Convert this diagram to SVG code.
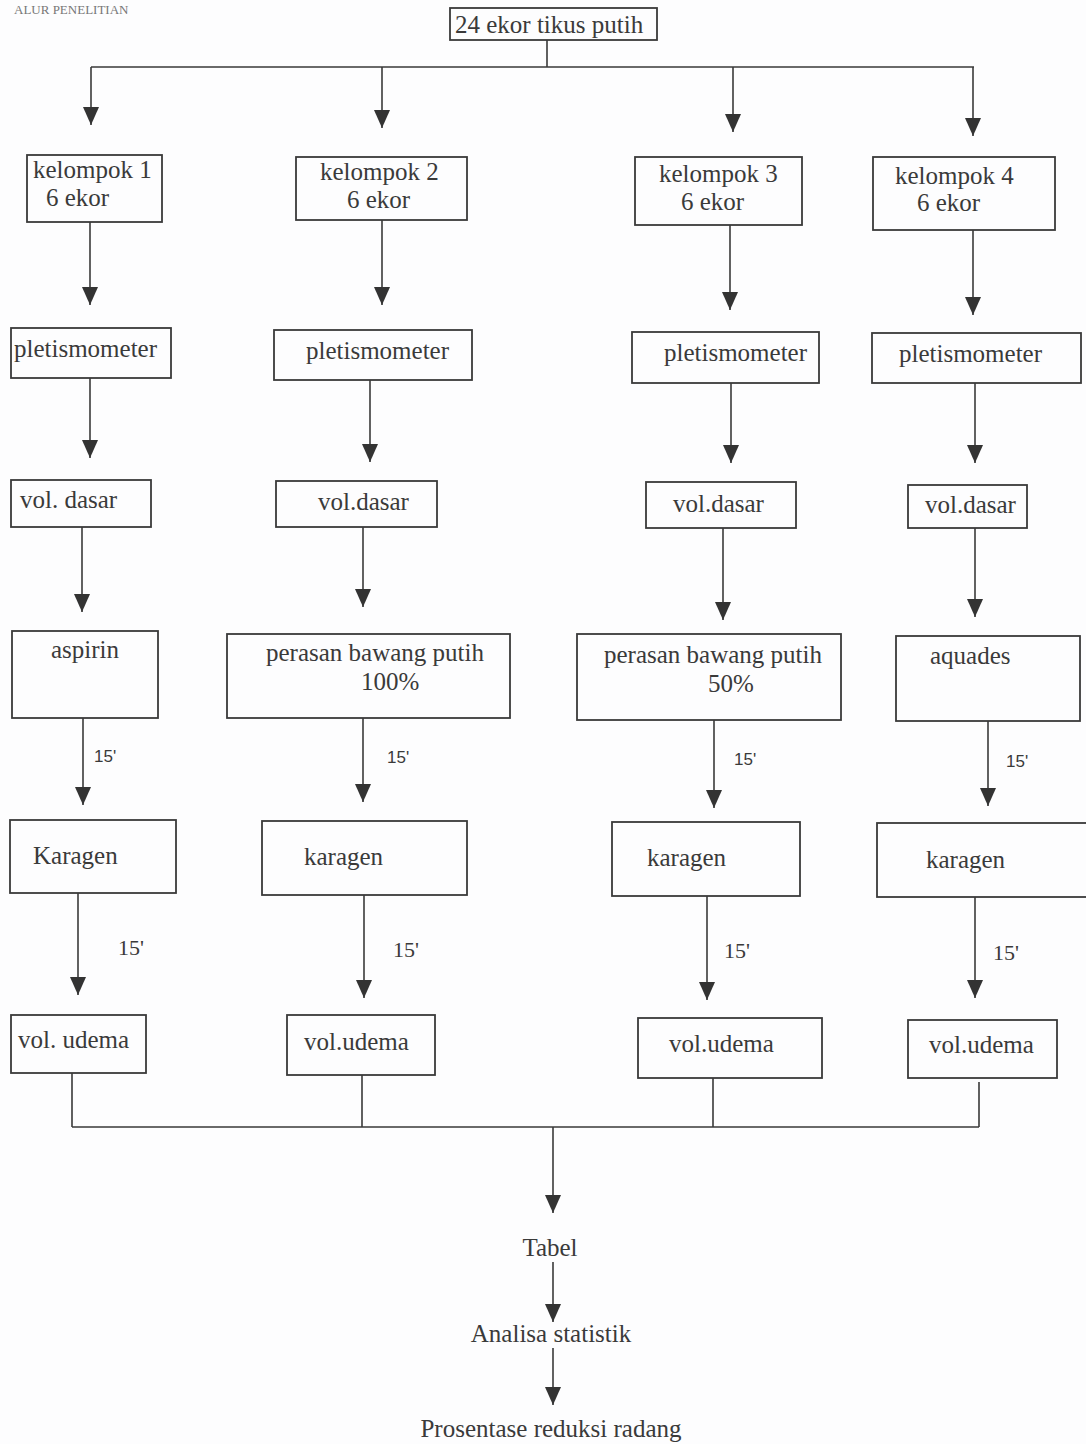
<svg xmlns="http://www.w3.org/2000/svg" width="1086" height="1444" viewBox="0 0 1086 1444">
<style>
.bx{fill:none;stroke:#3a3a3a;stroke-width:1.8}
.ln{fill:none;stroke:#3a3a3a;stroke-width:1.6}
.t{font-family:"Liberation Serif","Times New Roman",serif;font-size:25px;fill:#3a3a3a}
.s{font-family:"Liberation Sans",Arial,sans-serif;font-size:17px;fill:#3a3a3a}
.m{font-family:"Liberation Serif","Times New Roman",serif;font-size:22px;fill:#3a3a3a}
.h{font-family:"Liberation Serif","Times New Roman",serif;font-size:13px;fill:#777}
</style>
<defs>
<marker id="ah" markerWidth="18" markerHeight="16" refX="18" refY="8" orient="auto" markerUnits="userSpaceOnUse">
<path d="M0,0 L18,8 L0,16 z" fill="#333"/>
</marker>
</defs>
<rect width="1086" height="1444" fill="#fdfdfe"/>
<text class="h" x="14" y="14">ALUR PENELITIAN</text>

<g id="connectors">
<path class="ln" d="M547,40 V67 M91,67 H974"/>
<path class="ln" d="M91,67 V125" marker-end="url(#ah)"/>
<path class="ln" d="M382,67 V128" marker-end="url(#ah)"/>
<path class="ln" d="M733,67 V132" marker-end="url(#ah)"/>
<path class="ln" d="M973,67 V136" marker-end="url(#ah)"/>

<path class="ln" d="M90,222 V305" marker-end="url(#ah)"/>
<path class="ln" d="M382,220 V305" marker-end="url(#ah)"/>
<path class="ln" d="M730,225 V310" marker-end="url(#ah)"/>
<path class="ln" d="M973,230 V315" marker-end="url(#ah)"/>

<path class="ln" d="M90,378 V458" marker-end="url(#ah)"/>
<path class="ln" d="M370,380 V462" marker-end="url(#ah)"/>
<path class="ln" d="M731,383 V463" marker-end="url(#ah)"/>
<path class="ln" d="M975,383 V463" marker-end="url(#ah)"/>

<path class="ln" d="M82,527 V612" marker-end="url(#ah)"/>
<path class="ln" d="M363,527 V607" marker-end="url(#ah)"/>
<path class="ln" d="M723,528 V620" marker-end="url(#ah)"/>
<path class="ln" d="M975,528 V617" marker-end="url(#ah)"/>

<path class="ln" d="M83,718 V805" marker-end="url(#ah)"/>
<path class="ln" d="M363,718 V802" marker-end="url(#ah)"/>
<path class="ln" d="M714,720 V808" marker-end="url(#ah)"/>
<path class="ln" d="M988,721 V806" marker-end="url(#ah)"/>

<path class="ln" d="M78,893 V995" marker-end="url(#ah)"/>
<path class="ln" d="M364,895 V998" marker-end="url(#ah)"/>
<path class="ln" d="M707,896 V1000" marker-end="url(#ah)"/>
<path class="ln" d="M975,897 V998" marker-end="url(#ah)"/>

<path class="ln" d="M72,1073 V1127 M362,1075 V1127 M713,1078 V1127 M979,1082 V1127 M72,1127 H979"/>
<path class="ln" d="M553,1127 V1213" marker-end="url(#ah)"/>
<path class="ln" d="M553,1262 V1322" marker-end="url(#ah)"/>
<path class="ln" d="M553,1348 V1405" marker-end="url(#ah)"/>

<text class="s" x="94" y="762">15'</text>
<text class="s" x="387" y="763">15'</text>
<text class="s" x="734" y="765">15'</text>
<text class="s" x="1006" y="767">15'</text>
<text class="m" x="118" y="955">15'</text>
<text class="m" x="393" y="957">15'</text>
<text class="m" x="724" y="958">15'</text>
<text class="m" x="993" y="960">15'</text>
</g>

<g id="start"><rect class="bx" x="450" y="8" width="207" height="32"/><text class="t" x="455" y="33">24 ekor tikus putih</text></g>

<g id="kelompok1"><rect class="bx" x="27" y="155" width="135" height="67"/><text class="t" x="33" y="178">kelompok 1</text><text class="t" x="46" y="206">6 ekor</text></g>
<g id="kelompok2"><rect class="bx" x="296" y="157" width="171" height="63"/><text class="t" x="320" y="180">kelompok 2</text><text class="t" x="347" y="208">6 ekor</text></g>
<g id="kelompok3"><rect class="bx" x="635" y="157" width="167" height="68"/><text class="t" x="659" y="182">kelompok 3</text><text class="t" x="681" y="210">6 ekor</text></g>
<g id="kelompok4"><rect class="bx" x="873" y="157" width="182" height="73"/><text class="t" x="895" y="184">kelompok 4</text><text class="t" x="917" y="211">6 ekor</text></g>

<g id="plet1"><rect class="bx" x="11" y="328" width="160" height="50"/><text class="t" x="14" y="357">pletismometer</text></g>
<g id="plet2"><rect class="bx" x="274" y="330" width="198" height="50"/><text class="t" x="306" y="359">pletismometer</text></g>
<g id="plet3"><rect class="bx" x="632" y="332" width="187" height="51"/><text class="t" x="664" y="361">pletismometer</text></g>
<g id="plet4"><rect class="bx" x="872" y="333" width="209" height="50"/><text class="t" x="899" y="362">pletismometer</text></g>

<g id="vd1"><rect class="bx" x="11" y="480" width="140" height="47"/><text class="t" x="20" y="508">vol. dasar</text></g>
<g id="vd2"><rect class="bx" x="276" y="481" width="161" height="46"/><text class="t" x="318" y="510">vol.dasar</text></g>
<g id="vd3"><rect class="bx" x="646" y="482" width="150" height="46"/><text class="t" x="673" y="512">vol.dasar</text></g>
<g id="vd4"><rect class="bx" x="908" y="485" width="119" height="43"/><text class="t" x="925" y="513">vol.dasar</text></g>

<g id="aspirin"><rect class="bx" x="12" y="631" width="146" height="87"/><text class="t" x="51" y="658">aspirin</text></g>
<g id="bawang100"><rect class="bx" x="227" y="634" width="283" height="84"/><text class="t" x="266" y="661">perasan bawang putih</text><text class="t" x="361" y="690">100%</text></g>
<g id="bawang50"><rect class="bx" x="577" y="634" width="264" height="86"/><text class="t" x="604" y="663">perasan bawang putih</text><text class="t" x="708" y="692">50%</text></g>
<g id="aquades"><rect class="bx" x="896" y="636" width="184" height="85"/><text class="t" x="930" y="664">aquades</text></g>

<g id="kar1"><rect class="bx" x="10" y="820" width="166" height="73"/><text class="t" x="33" y="864">Karagen</text></g>
<g id="kar2"><rect class="bx" x="262" y="821" width="205" height="74"/><text class="t" x="304" y="865">karagen</text></g>
<g id="kar3"><rect class="bx" x="612" y="822" width="188" height="74"/><text class="t" x="647" y="866">karagen</text></g>
<g id="kar4"><rect class="bx" x="877" y="823" width="215" height="74"/><text class="t" x="926" y="868">karagen</text></g>

<g id="ud1"><rect class="bx" x="11" y="1015" width="135" height="58"/><text class="t" x="18" y="1048">vol. udema</text></g>
<g id="ud2"><rect class="bx" x="287" y="1015" width="148" height="60"/><text class="t" x="304" y="1050">vol.udema</text></g>
<g id="ud3"><rect class="bx" x="638" y="1018" width="184" height="60"/><text class="t" x="669" y="1052">vol.udema</text></g>
<g id="ud4"><rect class="bx" x="908" y="1020" width="149" height="58"/><text class="t" x="929" y="1053">vol.udema</text></g>

<g id="tabel"><text class="t" x="550" y="1256" text-anchor="middle">Tabel</text></g>
<g id="analisa"><text class="t" x="551" y="1342" text-anchor="middle">Analisa statistik</text></g>
<g id="prosentase"><text class="t" x="551" y="1437" text-anchor="middle">Prosentase reduksi radang</text></g>
</svg>
